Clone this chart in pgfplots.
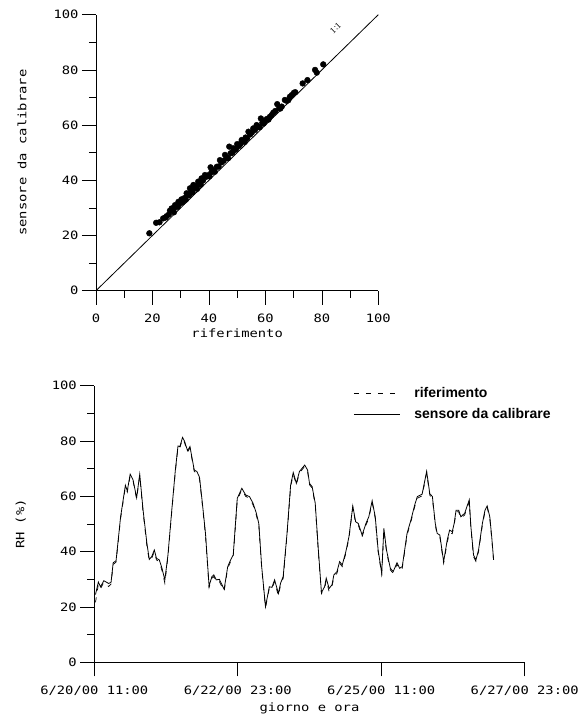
\documentclass[border=0pt]{standalone}
\usepackage{pgfplots}
\pgfplotsset{compat=1.18}
\usepackage{fontspec}
\setmainfont{Liberation Sans}
\newfontfamily\axfont[FakeStretch=1.2]{DejaVu Sans Mono}
\newfontfamily\legfont{Liberation Sans}
\newfontfamily\serfont{Liberation Serif}
\pgfplotsset{
  mystyle/.style={
    scale only axis,
    axis lines*=left,
    tick align=outside,
    major tick length=14pt,
    minor tick length=7pt,
    every tick/.style={black, line width=0.6pt},
    axis line style={line width=0.8pt},
    /pgf/number format/assume math mode=true,
    tick label style={font=\axfont\fontsize{11.5}{13}\selectfont},
    xticklabel style={yshift=-6pt},
    label style={font=\axfont\fontsize{11.5}{13}\selectfont},
    clip=false,
  }
}
\begin{document}
\begin{tikzpicture}
\useasboundingbox (0,0) rectangle (588pt,715pt);
% ---------- top scatter ----------
\begin{axis}[mystyle,
  at={(96pt,424.3pt)}, anchor=south west,
  width=282.3pt, height=276pt,
  xmin=0, xmax=100, ymin=0, ymax=100,
  xtick={0,20,...,100}, ytick={0,20,...,100},
  minor tick num=1,
  xlabel={riferimento},
  ylabel={sensore da calibrare},
  xlabel style={at={(axis description cs:0.5,-0.153)}, anchor=center},
  ylabel style={at={(axis description cs:-0.262,0.5)}, anchor=center},
]
\addplot[black, line width=0.8pt] coordinates {(0,0) (100,100)};
\addplot[only marks, mark=*, mark size=2.9pt, black] table {
x y
18.9 20.8
21.3 24.6
22.5 24.8
23.8 26.2
24.6 26.5
25.0 27.0
25.8 27.6
26.2 29.0
26.8 29.8
27.3 29.1
27.6 28.4
27.9 30.2
28.0 31.0
28.6 30.6
29.0 30.4
29.2 32.2
29.8 31.7
30.3 33.1
30.6 32.0
30.9 32.8
31.4 33.6
31.8 33.0
32.1 35.3
32.6 34.8
33.0 34.6
33.3 37.1
33.8 36.2
34.2 35.6
34.5 38.3
34.9 37.4
35.4 37.9
35.8 36.9
36.2 39.5
36.7 38.8
37.1 38.4
37.4 40.7
37.9 39.9
38.6 41.9
39.1 41.3
39.7 41.8
40.2 41.4
40.6 44.7
40.9 42.9
41.5 43.6
42.1 43.1
42.8 44.9
43.4 45.0
43.9 47.3
44.5 46.5
45.2 47.1
45.7 49.2
46.3 48.3
46.8 48.0
47.2 52.2
47.7 49.8
48.3 50.0
48.6 51.6
49.2 51.0
49.6 51.3
50.0 53.1
50.6 52.4
51.2 53.2
51.6 54.6
52.3 54.3
52.7 53.9
53.0 55.5
53.5 55.2
54.0 57.6
54.6 56.6
55.2 57.3
55.7 58.8
56.3 58.2
56.9 60.0
57.5 59.3
58.0 59.2
58.4 62.4
58.9 60.8
59.4 60.6
59.9 61.6
60.5 62.2
61.1 62.0
61.6 63.0
62.2 63.6
62.8 64.5
63.5 65.1
64.2 67.6
64.9 66.2
65.3 66.0
65.8 66.7
66.9 69.1
67.5 68.8
68.1 69.0
68.7 70.3
69.4 70.9
70.1 71.7
70.6 71.9
73.2 75.1
74.9 76.3
77.6 80.0
78.2 79.0
80.5 82.0
};
\node[rotate=44, font=\serfont\fontsize{9}{10}\selectfont] at (axis cs:84.8,95.2) {1:1};
\end{axis}
% ---------- bottom time series ----------
\begin{axis}[mystyle,
  at={(94.3pt,52.7pt)}, anchor=south west,
  width=430.4pt, height=276.6pt,
  xmin=0, xmax=180, ymin=0, ymax=100,
  xtick={0,60,120,180},
  xticklabels={{6/20/00 11:00},{6/22/00 23:00},{6/25/00 11:00},{6/27/00 23:00}},
  ytick={0,20,...,100},
  minor y tick num=1,
  xlabel={giorno e ora},
  ylabel={RH (\%)},
  xlabel style={at={(axis description cs:0.5,-0.165)}, anchor=center},
  ylabel style={at={(axis description cs:-0.171,0.5)}, anchor=center},
  legend style={draw=none, fill=none, at={(axis description cs:0.595,1.008)}, anchor=north west,
    font=\legfont\bfseries\fontsize{14}{16}\selectfont, row sep=5pt,
    /tikz/every odd column/.append style={column sep=12pt}},
  legend cell align=left,
  legend image code/.code={\draw[#1] (0pt,0pt) -- (46pt,0pt);},
]
\addplot[black, line width=0.7pt, dash pattern=on 5pt off 7pt] table {
h v
0.5 21.7
1.7 28.2
2.6 26.6
4 29.0
6 27.4
7 28.3
7.9 35.4
9.1 36.2
11 52.0
13 63.4
13.8 61.5
15 67.4
16.2 65.6
17.7 59.0
19 67.5
20.4 54.2
22 42.0
23 36.6
24 37.6
25.1 40.0
26 37.0
27.2 36.4
28.3 33.2
29.5 28.6
30.8 38.2
32.4 54.4
33.9 69.0
35 77.8
35.8 77.6
36.9 80.8
37.7 79.5
39 76.0
40 77.5
41.8 69.0
42.9 68.4
44 66.3
45.2 56.8
46.5 45.8
48 27.0
49.2 30.4
50 31.0
51 29.0
52.3 29.2
54.3 25.7
55.8 34.0
57 36.4
58.1 38.2
59.8 58.7
61.7 62.4
63.3 60.0
64.9 59.3
66.4 56.9
67.7 53.4
68.8 49.6
70 34.0
71.6 19.8
73.2 26.8
74.3 26.5
75.4 29.2
77 24.0
77.9 28.0
79 30.4
80.6 46.0
82.1 63.4
83.2 68.0
84.5 64.2
85.8 68.5
88 70.8
89.2 69.0
90 64.2
91.1 63.0
92.4 56.9
93.6 41.2
95 24.8
96.3 26.6
97 29.6
98.2 25.6
99.4 27.4
100.2 30.8
101.5 32.2
102.6 35.8
103.7 34.6
105.2 39.4
106.5 44.8
108.1 56.0
109.3 50.2
110.4 49.6
112 45.4
113.6 49.6
114.8 52.0
116.2 57.8
117.5 52.0
118.7 40.0
120.2 31.8
121.1 47.8
122.2 40.0
123.8 33.4
125 32.2
126.6 35.4
127.7 33.4
128.8 34.0
130.8 46.0
132.4 50.8
134 56.3
135.1 59.3
137.1 60.2
139 68.5
140.3 60.4
141.4 59.3
142.6 49.6
143.4 46.0
144.5 45.4
146.1 35.8
147.6 43.4
148.6 47.0
149.7 46.5
150.5 49.6
151.3 54.4
152.4 54.4
153.3 52.0
154.9 53.3
156.8 58.1
157.5 48.4
158.6 38.2
159.6 36.5
160.7 40.0
162.3 49.6
163.4 54.4
164.3 56.0
165.4 52.0
166.2 44.8
167 36.5
};
\addlegendentry{riferimento}
\addplot[black, line width=0.8pt] table {
h v
0.5 24.5
1.7 29
2.6 27.3
4 29.5
6 28.5
7 28.9
7.9 36
9.1 36.7
11 52.6
13 64
13.8 62
15 68
16.2 66
17.7 59.5
19 68
20.4 55
22 43
23 37.2
24 38.2
25.1 40.6
26 37.6
27.2 37
28.3 34
29.5 29.8
30.8 38.8
32.4 55
33.9 69.5
35 78.2
35.8 78
36.9 81.3
37.7 80
39 76.5
40 78
41.8 69.5
42.9 69
44 66.9
45.2 57.5
46.5 46.6
48 27.6
49.2 31
50 31.6
51 29.8
52.3 30
54.3 26.4
55.8 34.6
57 37
58.1 38.8
59.8 59.3
61.7 62.9
63.3 60.5
64.9 59.9
66.4 57.5
67.7 54.1
68.8 50.2
70 34.6
71.6 20.1
73.2 27.3
74.3 27.1
75.4 29.8
77 24.9
77.9 28.6
79 31
80.6 46.6
82.1 64
83.2 68.6
84.5 64.7
85.8 69
88 71.3
89.2 69.5
90 64.7
91.1 63.5
92.4 57.5
93.6 41.8
95 25.2
96.3 27.3
97 30.4
98.2 26.7
99.4 28
100.2 31.6
101.5 32.8
102.6 36.4
103.7 35.2
105.2 40
106.5 45.4
108.1 56.5
109.3 50.8
110.4 50.2
112 46
113.6 50.2
114.8 52.6
116.2 58.4
117.5 52.6
118.7 40.6
120.2 32.2
121.1 48.4
122.2 40.6
123.8 34
125 32.8
126.6 36
127.7 34
128.8 34.6
130.8 46.6
132.4 51.4
134 56.9
135.1 59.9
137.1 60.8
139 69
140.3 61
141.4 59.9
142.6 50.2
143.4 46.6
144.5 46
146.1 36.4
147.6 44.2
148.6 47.8
149.7 47.2
150.5 50.2
151.3 55
152.4 55
153.3 52.6
154.9 53.9
156.8 58.7
157.5 49
158.6 38.8
159.6 37
160.7 40.6
162.3 50.2
163.4 55
164.3 56.5
165.4 52.6
166.2 45.4
167 37
};
\addlegendentry{sensore da calibrare}
\end{axis}
\end{tikzpicture}
\end{document}
